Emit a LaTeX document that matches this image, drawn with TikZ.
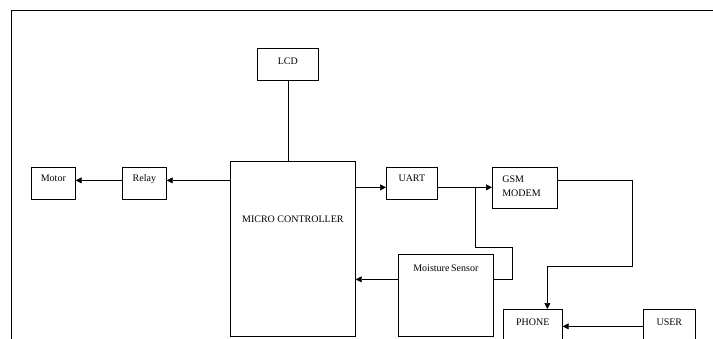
\documentclass[tikz,border=0pt]{standalone}
\usepackage{fontspec}
\setmainfont{Liberation Serif}
\usetikzlibrary{positioning,arrows.meta}
\tikzset{
	block/.style={rectangle, draw, line width=0.7pt, anchor=north west, inner xsep=0pt, inner ysep=7pt, text height=7.5pt},
	arrow/.style={-{Triangle[length=6pt,width=6pt]}, line width=0.7pt}
}

\begin{document}
\begin{tikzpicture}[x=1pt,y=-1pt,font=\fontsize{10}{12}\selectfont]
			\useasboundingbox (0,0) rectangle (713,338);
			\clip (0,0) rectangle (713,338);
			% page frame
			\draw[line width=0.7pt] (11,345) -- (11,10) -- (720,10);
			
			% blocks
			\node[block,minimum width=61pt,text height=9.5pt,text depth=8.5pt] (lcd) at (257,48) {LCD};
			\node[block,minimum width=44pt,text depth=10.5pt] (motor) at (31,167) {Motor};
			\node[block,minimum width=44pt,text depth=10.5pt] (relay) at (122,167) {Relay};
			\node[block,minimum width=125pt,text height=54.5pt,text depth=106.5pt] (mc) at (230,161) {MICRO CONTROLLER};
			\node[block,minimum width=51pt,text depth=10.5pt] (uart) at (386,167) {UART};
			\node[block,text width=45pt,inner xsep=10pt,align=left,text height=8pt,text depth=19pt] (gsm) at (492,167) {GSM\\[2.5pt]MODEM};
			\node[block,minimum width=95pt,text height=9.7pt,text depth=58.3pt] (ms) at (398,254) {Moisture\,Sensor};
			\node[block,minimum width=59pt,text height=9pt,text depth=17pt] (phone) at (503,309) {PHONE};
			\node[block,minimum width=52pt,text height=9pt,text depth=17pt] (user) at (643,309) {USER};
			
			% connectors
			\draw[line width=0.7pt] (lcd.south) -- (lcd.south |- mc.north);
			\draw[arrow] ([yshift=3pt]relay.east -| mc.west) -- ([yshift=3pt]relay.east);
			\draw[arrow] ([yshift=3pt]relay.west) -- ([yshift=3pt]motor.east);
			\draw[arrow] ([yshift=-4pt]uart.west -| mc.east) -- ([yshift=-4pt]uart.west);
			\draw[arrow] ([yshift=-4pt]uart.east) -- ([yshift=-4pt]uart.east -| gsm.west);
			\coordinate (split) at ([xshift=38pt,yshift=-4pt]uart.east);
			\draw[line width=0.7pt] (split) |- ++(37,60) |- ([yshift=16pt]ms.east);
			\draw[arrow] ([yshift=16pt]ms.west) -- ([yshift=16pt]ms.west -| mc.east);
			\draw[arrow] ([yshift=7.5pt]gsm.east) -| ++(75,86) -| ([xshift=14.5pt]phone.north);
			\draw[arrow] ([yshift=3pt]user.west) -- ([yshift=3pt]phone.east);
		\end{tikzpicture}
\end{document}
